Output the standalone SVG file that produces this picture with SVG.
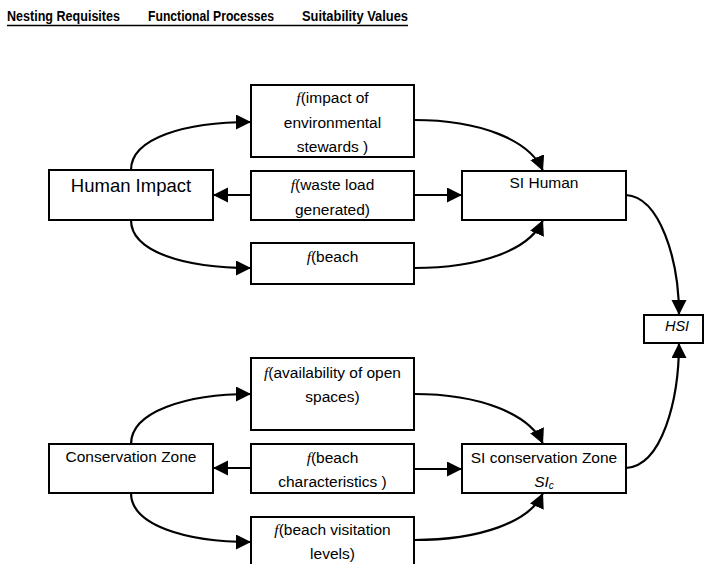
<svg xmlns="http://www.w3.org/2000/svg" width="704" height="564" viewBox="0 0 704 564">
<style>
.box{fill:#fff;stroke:#000;stroke-width:2}
.t{font-family:"Liberation Sans",Arial,sans-serif;font-size:15.5px;fill:#000;text-anchor:middle}
.f{font-family:"Liberation Serif","Times New Roman",serif;font-style:italic}
.h{font-family:"Liberation Sans",Arial,sans-serif;font-size:14.5px;font-weight:bold;fill:#000}
.c{fill:none;stroke:#000;stroke-width:2.2;marker-end:url(#ah)}
</style>
<defs>
<marker id="ah" markerUnits="userSpaceOnUse" markerWidth="16" markerHeight="16" refX="15" refY="7.5" orient="auto">
<path d="M0,0 L15,7.5 L0,15 z" fill="#000"/>
</marker>
</defs>
<rect width="704" height="564" fill="#fff"/>
<g id="header">
<text class="h" x="7" y="21" textLength="113" lengthAdjust="spacingAndGlyphs">Nesting Requisites</text>
<text class="h" x="148" y="21" textLength="126" lengthAdjust="spacingAndGlyphs">Functional Processes</text>
<text class="h" x="302" y="21" textLength="106" lengthAdjust="spacingAndGlyphs">Suitability Values</text>
<line x1="7" y1="25.5" x2="408" y2="25.5" stroke="#000" stroke-width="1.5"/>
</g>
<g id="connectors">
<path class="c" d="M131,170 C131,138 185,122 251,122"/>
<path class="c" d="M131,220 C131,252 185,268 251,268"/>
<path class="c" d="M251,195 L213,195"/>
<path class="c" d="M414,195 L462,195"/>
<path class="c" d="M414,120 C480,120 530,140 543,171"/>
<path class="c" d="M414,268 C480,268 530,250 543,220"/>
<path class="c" d="M626,195 C660,197 679,260 679,315"/>
<path class="c" d="M626,468 C662,466 679,400 679,343"/>
<path class="c" d="M131,444 C131,412 185,394 251,394"/>
<path class="c" d="M131,493 C131,525 185,542 251,542"/>
<path class="c" d="M251,468 L213,468"/>
<path class="c" d="M414,469 L462,469"/>
<path class="c" d="M414,394 C480,394 530,414 543,444"/>
<path class="c" d="M414,540 C480,540 530,522 543,493"/>
</g>
<g id="human-impact">
<rect class="box" x="49" y="170" width="164" height="50"/>
<text class="t" x="131" y="192" style="font-size:18.5px">Human Impact</text>
</g>
<g id="f-stewards">
<rect class="box" x="251" y="85" width="163" height="72"/>
<text class="t" x="332.5" y="103"><tspan class="f">f</tspan>(impact of</text>
<text class="t" x="332.5" y="128">environmental</text>
<text class="t" x="332.5" y="152">stewards )</text>
</g>
<g id="f-waste">
<rect class="box" x="251" y="171" width="163" height="49"/>
<text class="t" x="332.5" y="190"><tspan class="f">f</tspan>(waste load</text>
<text class="t" x="332.5" y="215">generated)</text>
</g>
<g id="f-beach">
<rect class="box" x="251" y="243" width="163" height="41"/>
<text class="t" x="332.5" y="262"><tspan class="f">f</tspan>(beach</text>
</g>
<g id="si-human">
<rect class="box" x="462" y="171" width="164" height="49"/>
<text class="t" x="544" y="188">SI Human</text>
</g>
<g id="hsi">
<rect class="box" x="644" y="315" width="59" height="28"/>
<text class="t" x="677" y="331" style="font-style:italic;font-size:14.5px">HSI</text>
</g>
<g id="conservation-zone">
<rect class="box" x="49" y="444" width="164" height="49"/>
<text class="t" x="131" y="462">Conservation Zone</text>
</g>
<g id="f-open-spaces">
<rect class="box" x="251" y="358" width="163" height="72"/>
<text class="t" x="332.5" y="378"><tspan class="f">f</tspan>(availability of open</text>
<text class="t" x="332.5" y="402">spaces)</text>
</g>
<g id="f-characteristics">
<rect class="box" x="251" y="444" width="163" height="49"/>
<text class="t" x="332.5" y="463"><tspan class="f">f</tspan>(beach</text>
<text class="t" x="332.5" y="487">characteristics )</text>
</g>
<g id="f-visitation">
<rect class="box" x="251" y="517" width="163" height="50"/>
<text class="t" x="332.5" y="535"><tspan class="f">f</tspan>(beach visitation</text>
<text class="t" x="332.5" y="559">levels)</text>
</g>
<g id="si-conservation">
<rect class="box" x="462" y="444" width="164" height="49"/>
<text class="t" x="544" y="463">SI conservation Zone</text>
<text class="t" x="544" y="487" style="font-style:italic">SI<tspan style="font-size:10px" dy="2">c</tspan></text>
</g>
</svg>
